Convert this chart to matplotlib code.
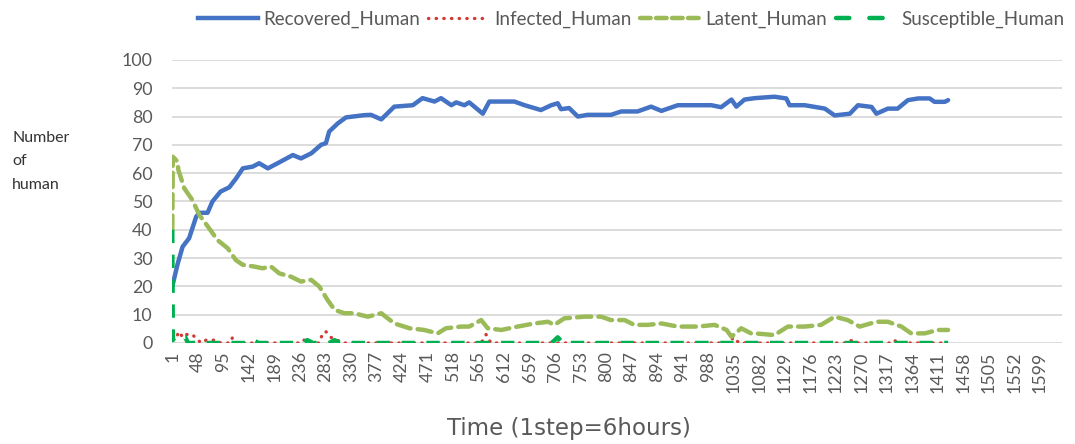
import matplotlib
matplotlib.use("Agg")
import matplotlib.pyplot as plt
from matplotlib.lines import Line2D

# ---------------- data ----------------
recovered_steps = [1, 11, 20, 32, 45, 51, 66, 75, 90, 106, 118, 131, 149, 161, 177, 195, 223, 238,
                   257, 275, 284, 290, 306, 321, 355, 367, 386, 410, 444, 462, 484, 496, 515, 524,
                   539, 548, 573, 585, 631, 650, 680, 699, 711, 717, 732, 748, 766, 809, 828, 858,
                   883, 902, 932, 994, 1012, 1031, 1040, 1055, 1074, 1110, 1132, 1138, 1166, 1203,
                   1221, 1249, 1264, 1289, 1298, 1319, 1337, 1356, 1375, 1396, 1405, 1424, 1430]
recovered_vals = [20, 28, 34, 37, 44.6, 46, 46, 50, 53.5, 55, 58, 61.7, 62.3, 63.5, 61.7, 63.5,
                  66.4, 65.2, 67, 70, 70.6, 74.7, 77.6, 79.7, 80.5, 80.6, 79, 83.5, 84, 86.5, 85.3,
                  86.5, 84, 85, 84, 85, 81, 85.3, 85.3, 84, 82.3, 84, 84.7, 82.6, 83, 80, 80.6,
                  80.6, 81.8, 81.8, 83.5, 82, 84, 84, 83.3, 86, 83.5, 86, 86.5, 87, 86.4, 84, 84,
                  82.8, 80.4, 81, 84, 83.4, 81, 82.8, 82.8, 85.8, 86.4, 86.4, 85.2, 85.2, 85.8]

infected_steps = [1, 8, 14, 20, 26, 38, 48, 55, 63, 82, 90, 108, 112, 120, 140, 236, 240, 250,
                  256, 272, 278, 284, 293, 305, 315, 570, 579, 588, 1025, 1035, 1045, 1240, 1250,
                  1260, 1325, 1330, 1340, 1430]
infected_vals = [1, 2, 4, 2, 3, 3, 1, 0, 1, 1, 0, 0, 2, 0, 0, 0, 1, 1,
                 0, 0, 3.5, 4, 2, 1, 0, 0, 3, 0, 0, 2, 0, 0, 1,
                 0, 0, 1, 0, 0]

latent_steps = [1, 2, 11, 12, 23, 38, 51, 69, 84, 103, 118, 131, 152, 167, 183, 198, 220, 238,
                257, 272, 287, 300, 318, 336, 361, 386, 410, 438, 465, 490, 505, 533, 548, 570,
                582, 607, 637, 668, 693, 705, 723, 760, 791, 809, 834, 852, 877, 902, 932, 969,
                1000, 1022, 1031, 1049, 1067, 1074, 1110, 1135, 1166, 1196, 1221, 1245, 1267,
                1298, 1319, 1344, 1362, 1387, 1411, 1430]
latent_vals = [40, 65.8, 64, 61.3, 54.7, 50.5, 45.2, 40.5, 36.4, 33.5, 29.3, 27.6, 27, 26.4, 27,
               24.6, 23.4, 21.7, 22.3, 19.9, 15.2, 11.7, 10.5, 10.5, 9.3, 10.5, 6.9, 5.2, 4.6,
               3.4, 5.2, 5.8, 5.8, 8.1, 5.2, 4.6, 5.8, 6.9, 7.5, 6.4, 8.7, 9.3, 9.3, 8.1, 8.1,
               6.4, 6.4, 6.9, 5.8, 5.8, 6.4, 4.6, 2.2, 5.2, 3.4, 3.4, 2.8, 5.8, 5.8, 6.4, 9.3,
               8.1, 5.8, 7.5, 7.5, 5.8, 3.4, 3.4, 4.6, 4.6]

susceptible_steps = [1, 2, 5, 25, 30, 140, 150, 160, 240, 250, 260, 290, 300, 310, 700, 711,
                     720, 1430]
susceptible_vals = [40, 1, 2, 2, 0, 0, 1, 0, 0, 1, 0, 0, 1, 0, 0, 2, 0, 0]

series_names = ["Recovered_Human", "Infected_Human", "Latent_Human", "Susceptible_Human"]
x_tick_labels = list(range(1, 1600, 47))
y_ticks = list(range(0, 101, 10))

# ---------------- styling ----------------
C_REC = "#4472C4"
C_INF = "#D23B34"
C_LAT = "#9BBB59"
C_SUS = "#00B050"
TXT = "#595959"
FONT = ["Lato", "DejaVu Sans"]

plt.rcParams["font.family"] = FONT

fig = plt.figure(figsize=(10.75, 4.44), dpi=100)
ax = fig.add_axes([0.16, 0.2275, 0.828, 0.6375])

ax.plot(recovered_steps, recovered_vals, color=C_REC, lw=3.2, solid_joinstyle="round",
        solid_capstyle="round", zorder=3)
ax.plot(infected_steps, infected_vals, color=C_INF, lw=2.4, linestyle=(0, (0.1, 2.2)),
        dash_capstyle="round", zorder=4)
ax.plot(latent_steps, latent_vals, color=C_LAT, lw=3.2, linestyle=(0, (3.2, 1.6)),
        dash_capstyle="round", zorder=5)
ax.plot(susceptible_steps, susceptible_vals, color=C_SUS, lw=3.2, linestyle=(0, (3.0, 2.6)),
        dash_capstyle="butt", zorder=6)

ax.set_xlim(0.5, 1640)
ax.set_ylim(0, 100)
ax.set_yticks(y_ticks)
ax.set_xticks(x_tick_labels)
ax.set_xticklabels([str(v) for v in x_tick_labels], rotation=90, va="top", ha="center")
ax.tick_params(axis="both", length=0, labelsize=12.8, labelcolor=TXT)
ax.tick_params(axis="y", pad=14)
ax.tick_params(axis="x", pad=6)
ax.grid(axis="y", color="#D9D9D9", lw=1.3, zorder=0)
ax.set_axisbelow(True)
for s in ax.spines.values():
    s.set_visible(False)

fig.text(0.5295, 0.036, "Time (1step=6hours)", ha="center", va="center", fontsize=16.5,
         color=TXT, family=["DejaVu Sans"])

ylab_lines = ["Number", "of", "human"]
ylab_baselines_px = [142, 165, 189]
for line, yb in zip(ylab_lines, ylab_baselines_px):
    fig.text(12 / 1075, 1 - yb / 444, line, ha="left", va="baseline", fontsize=11.5,
             color="#333333")

handles = [
    Line2D([], [], color=C_REC, lw=3.2),
    Line2D([], [], color=C_INF, lw=2.4, linestyle=(0, (0.1, 2.2)), dash_capstyle="round"),
    Line2D([], [], color=C_LAT, lw=3.2, linestyle=(0, (2.4, 1.2)), dash_capstyle="round"),
    Line2D([], [], color=C_SUS, lw=3.2, linestyle=(0, (3.0, 4.5)), dash_capstyle="round"),
]
fig.legend(handles, series_names, loc="center", bbox_to_anchor=(0.587, 0.957), ncol=4,
           frameon=False, handlelength=3.2, handletextpad=0.3, columnspacing=0.45,
           labelcolor=TXT, prop={"family": FONT, "size": 13.5})

fig.savefig("out.png", dpi=100)
